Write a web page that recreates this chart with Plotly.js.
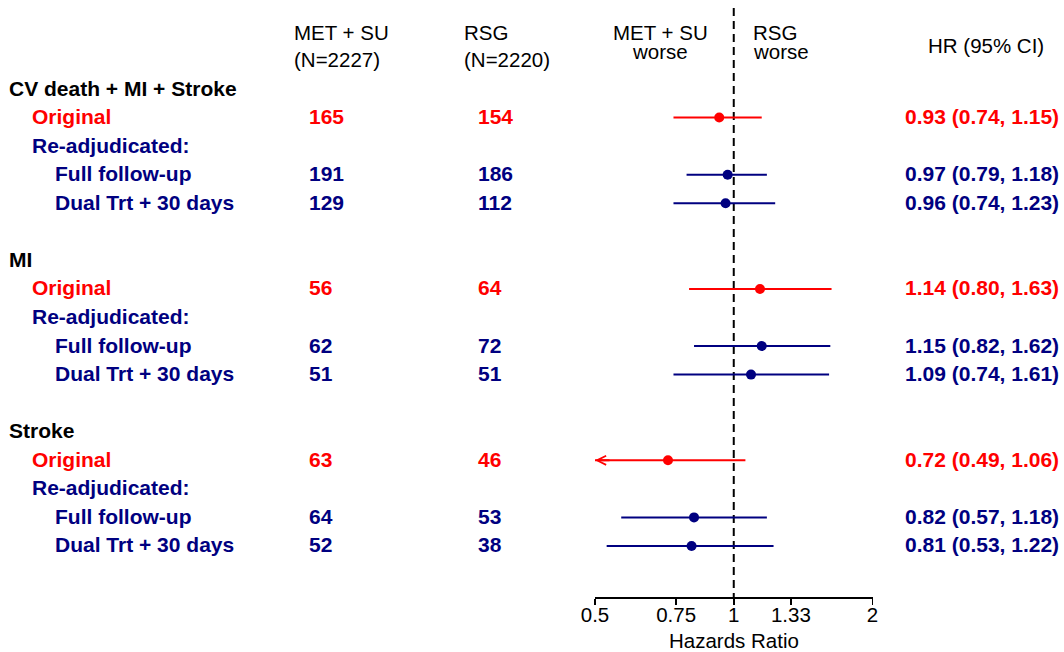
<!DOCTYPE html>
<html>
<head>
<meta charset="utf-8">
<script src="https://cdn.plot.ly/plotly-3.0.1.min.js"></script>
<style>
  html, body { margin: 0; padding: 0; background: #fff; }
  #chart { width: 1064px; height: 652px; }
</style>
</head>
<body>
<div id="chart"></div>
<script>
// Forest plot: event counts and hazard ratios (95% CI), MET + SU vs RSG
const outcomes = ["CV death + MI + Stroke", "MI", "Stroke"];
const analyses = ["Original", "Full follow-up", "Dual Trt + 30 days"];
const groupLabel = "Re-adjudicated:";

const eventsMetSu = [165, 191, 129, 56, 62, 51, 63, 64, 52];
const eventsRsg   = [154, 186, 112, 64, 72, 51, 46, 53, 38];
const hazardRatio = [0.93, 0.97, 0.96, 1.14, 1.15, 1.09, 0.72, 0.82, 0.81];
const ciLower     = [0.74, 0.79, 0.74, 0.80, 0.82, 0.74, 0.49, 0.57, 0.53];
const ciUpper     = [1.15, 1.18, 1.23, 1.63, 1.62, 1.61, 1.06, 1.18, 1.22];

const tickVals = [0.5, 0.75, 1, 1.33, 2];
const tickText = ["0.5", "0.75", "1", "1.33", "2"];
const noEffect = 1;

const RED = "#ff0000";
const NAVY = "#000080";
const FONT = "Liberation Sans, Arial, sans-serif";
const FS = 20.5;      // regular text
const FSB = 21;       // bold text

// page geometry
const W = 1064, H = 652;
const plotLeft = 595, plotRight = 872.5;
const plotTop = 8, plotBottom = 597;
const rowTop = -2.836;                 // row units at top edge of plot area
const rowPx = 28.56;                   // pixels per row
const rowBottom = rowTop + (plotBottom - plotTop) / rowPx;

// paper x spans the full width (no side margins)
const px2paper = px => px / W;
const py2paper = py => (plotBottom - py) / (plotBottom - plotTop);

// rows used by each analysis within an outcome block
const analysisRowOffset = [1, 3, 4];
const rowOf = (k, a) => 6 * k + analysisRowOffset[a];
const headerRow = k => 6 * k;
const groupRow = k => 6 * k + 2;

const traces = [];
const annotations = [];
const xMin = tickVals[0];

function label(text, px, row, color) {
  annotations.push({
    text: "<b>" + text + "</b>",
    x: px2paper(px), xref: "paper", xanchor: "left", xshift: -3,
    y: row, yref: "y", yanchor: "middle", yshift: 1,
    showarrow: false,
    font: { family: FONT, size: FSB, color: color }
  });
}
function pageLabel(text, px, py, anchor) {
  const a = anchor || "left";
  annotations.push({
    text: text,
    x: px2paper(px), xref: "paper", xanchor: a, xshift: a === "left" ? -3 : 0,
    y: py2paper(py), yref: "paper", yanchor: "middle",
    showarrow: false,
    font: { family: FONT, size: FS, color: "#000" }
  });
}

// column headers
pageLabel("MET + SU", 295, 32);
pageLabel("(N=2227)", 295, 59);
pageLabel("RSG", 465, 32);
pageLabel("(N=2220)", 465, 59);
pageLabel("MET + SU", 660, 32, "center");
pageLabel("worse", 660, 51, "center");
pageLabel("RSG", 754, 32);
pageLabel("worse", 754, 51);
pageLabel("HR (95% CI)", 986, 45, "center");

// reference line at HR = 1
traces.push({
  type: "scatter", mode: "lines",
  x: [noEffect, noEffect], y: [rowTop, rowBottom],
  line: { color: "#000", width: 2, dash: "8px,5px" },
  hoverinfo: "skip", showlegend: false
});

outcomes.forEach((name, k) => {
  label(name, 10, headerRow(k), "#000");
  label(groupLabel, 33, groupRow(k), NAVY);
  analyses.forEach((an, a) => {
    const i = 3 * k + a;
    const r = rowOf(k, a);
    const col = a === 0 ? RED : NAVY;
    label(an, a === 0 ? 33 : 56, r, col);
    label(String(eventsMetSu[i]), 310, r, col);
    label(String(eventsRsg[i]), 479, r, col);
    label(hazardRatio[i].toFixed(2) + " (" + ciLower[i].toFixed(2) + ", " + ciUpper[i].toFixed(2) + ")",
          906, r, col);

    // confidence interval
    traces.push({
      type: "scatter", mode: "lines",
      x: [ciLower[i], ciUpper[i]], y: [r, r],
      line: { color: col, width: 2 },
      hoverinfo: "skip", showlegend: false
    });
    // point estimate
    traces.push({
      type: "scatter", mode: "markers",
      x: [hazardRatio[i]], y: [r],
      marker: { color: col, size: 10, symbol: "circle" },
      hoverinfo: "skip", showlegend: false
    });
    // interval running past the axis: arrowhead at the axis edge
    if (ciLower[i] < xMin) {
      annotations.push({
        text: "", x: Math.log10(xMin), xref: "x", y: r, yref: "y",
        showarrow: true, ax: 16, ay: 0, axref: "pixel", ayref: "pixel",
        arrowhead: 5, arrowsize: 0.9, arrowwidth: 2, arrowcolor: col
      });
    }
  });
});

// axis title
pageLabel("Hazards Ratio", 734, 640, "center");

const layout = {
  width: W, height: H,
  margin: { l: 0, r: 0, t: plotTop, b: H - plotBottom, pad: 0 },
  paper_bgcolor: "#fff", plot_bgcolor: "#fff",
  showlegend: false,
  font: { family: FONT, size: FS, color: "#000" },
  xaxis: {
    type: "log",
    domain: [plotLeft / W, plotRight / W],
    range: [Math.log10(tickVals[0]), Math.log10(tickVals[tickVals.length - 1])],
    tickmode: "array", tickvals: tickVals, ticktext: tickText,
    ticks: "outside", ticklen: 6, tickwidth: 1.5, tickcolor: "#000",
    ticklabelstandoff: -7,
    showline: true, linecolor: "#000", linewidth: 1.5,
    showgrid: false, zeroline: false,
    tickfont: { family: FONT, size: FS, color: "#000" },
    fixedrange: true
  },
  yaxis: {
    range: [rowBottom, rowTop],
    visible: false, showgrid: false, zeroline: false, fixedrange: true
  },
  annotations: annotations
};

Plotly.newPlot("chart", traces, layout, { staticPlot: true, displayModeBar: false });
</script>
</body>
</html>
